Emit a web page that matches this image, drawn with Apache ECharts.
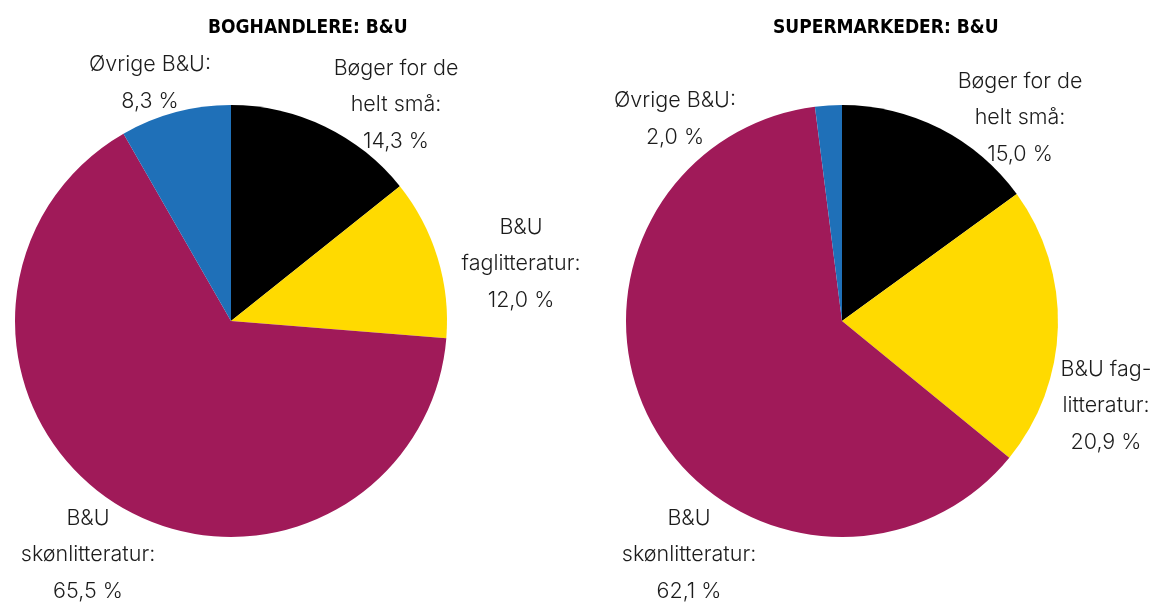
<!DOCTYPE html>
<html>
<head>
<meta charset="utf-8">
<script src="https://cdn.jsdelivr.net/npm/echarts@6/dist/echarts.min.js"></script>
<style>
  html, body { margin: 0; padding: 0; background: #fff; }
  #main { width: 1157px; height: 602px; }
</style>
</head>
<body>
<div id="main"></div>
<script>
// data
const colors = ['#000000', '#FFDA00', '#A01A59', '#1F70B8'];

const boghandlerNames = ['Bøger for de\nhelt små:', 'B&U\nfaglitteratur:', 'B&U\nskønlitteratur:', 'Øvrige B&U:'];
const boghandlerValues = [14.3, 12.0, 65.5, 8.3];

const superNames = ['Bøger for de\nhelt små:', 'B&U fag-\nlitteratur:', 'B&U\nskønlitteratur:', 'Øvrige B&U:'];
const superValues = [15.0, 20.9, 62.1, 2.0];

// label anchor spots (layout, not data)
const leftLabelPos = [[396, 105], [521, 264], [88, 555], [150, 83]];
const rightLabelPos = [[1020, 118], [1106, 406], [689, 555], [675, 119]];

const fmt = function (p) {
  return p.name + '\n' + p.value.toFixed(1).replace('.', ',') + ' %';
};

function makeData(names, values) {
  return names.map(function (n, i) {
    return { name: n, value: values[i], itemStyle: { color: colors[i] } };
  });
}

function pieSeries(center, names, values, labelPos) {
  return {
    type: 'pie',
    center: center,
    radius: 216,
    startAngle: 90,
    clockwise: true,
    animation: false,
    silent: true,
    label: {
      show: true,
      position: 'inside',
      formatter: fmt,
      color: '#1c1c1c',
      fontFamily: 'Inter',
      fontWeight: 300,
      fontSize: 21.5,
      lineHeight: 36.5,
      align: 'center'
    },
    labelLine: { show: false },
    labelLayout: function (params) {
      const p = labelPos[params.dataIndex];
      return { x: p[0], y: p[1], align: 'center', verticalAlign: 'middle' };
    },
    data: makeData(names, values)
  };
}

const chart = echarts.init(document.getElementById('main'));
const titleStyle = {
  fontFamily: 'DejaVu Sans Condensed',
  fontWeight: 'bold',
  fontSize: 19,
  color: '#000'
};
chart.setOption({
  backgroundColor: '#fff',
  title: [
    { text: 'BOGHANDLERE: B&U', left: 203, top: 14, textStyle: titleStyle },
    { text: 'SUPERMARKEDER: B&U', left: 768, top: 14, textStyle: titleStyle }
  ],
  series: [
    pieSeries([231, 321], boghandlerNames, boghandlerValues, leftLabelPos),
    pieSeries([842, 321], superNames, superValues, rightLabelPos)
  ]
});
</script>
</body>
</html>
